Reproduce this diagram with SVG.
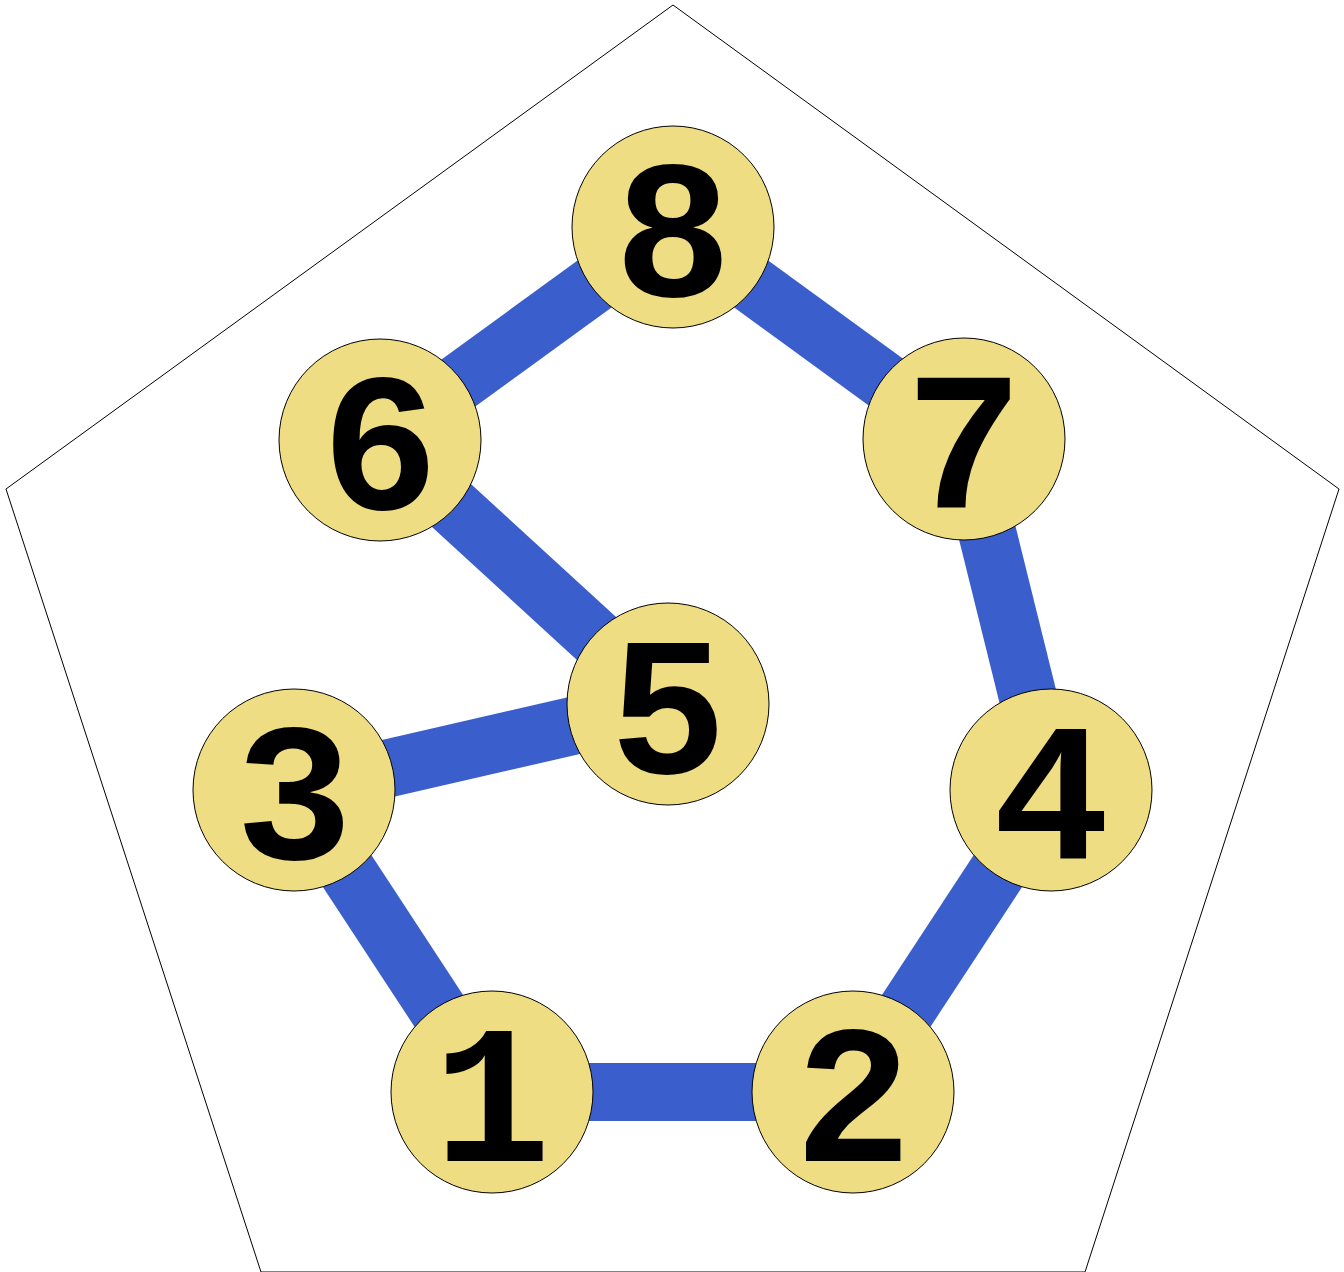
<svg xmlns="http://www.w3.org/2000/svg" width="1344" height="1272" viewBox="0 0 1344 1272">
<style>
.edge{stroke:#3a5fcd;stroke-width:58;fill:none}
.node circle{fill:#eedd82;stroke:#000;stroke-width:1}
.node text{font-family:"Liberation Mono","Courier New",monospace;font-weight:bold;font-size:196px;text-anchor:middle;fill:#000}
</style>
<rect width="1344" height="1272" fill="#fff"/>
<polygon points="673,5 1339,489 1085,1272 261,1272 6,489" fill="none" stroke="#000" stroke-width="1"/>
<g id="edges">
<line class="edge" x1="492" y1="1092" x2="853" y2="1092"/>
<line class="edge" x1="492" y1="1092" x2="294" y2="790"/>
<line class="edge" x1="294" y1="790" x2="668" y2="704"/>
<line class="edge" x1="668" y1="704" x2="380" y2="440"/>
<line class="edge" x1="380" y1="440" x2="673" y2="227"/>
<line class="edge" x1="673" y1="227" x2="964" y2="439"/>
<line class="edge" x1="964" y1="439" x2="1051" y2="790"/>
<line class="edge" x1="1051" y1="790" x2="853" y2="1092"/>
</g>
<g id="n8" class="node"><circle cx="673" cy="227" r="101"/><text x="673" y="296">8</text></g>
<g id="n6" class="node"><circle cx="380" cy="440" r="101"/><text x="380" y="509">6</text></g>
<g id="n7" class="node"><circle cx="964" cy="439" r="101"/><text x="964" y="508">7</text></g>
<g id="n5" class="node"><circle cx="668" cy="704" r="101"/><text x="668" y="773">5</text></g>
<g id="n3" class="node"><circle cx="294" cy="790" r="101"/><text x="294" y="859">3</text></g>
<g id="n4" class="node"><circle cx="1051" cy="790" r="101"/><text x="1051" y="859">4</text></g>
<g id="n1" class="node"><circle cx="492" cy="1092" r="101"/><text x="492" y="1161">1</text></g>
<g id="n2" class="node"><circle cx="853" cy="1092" r="101"/><text x="853" y="1161">2</text></g>
</svg>
